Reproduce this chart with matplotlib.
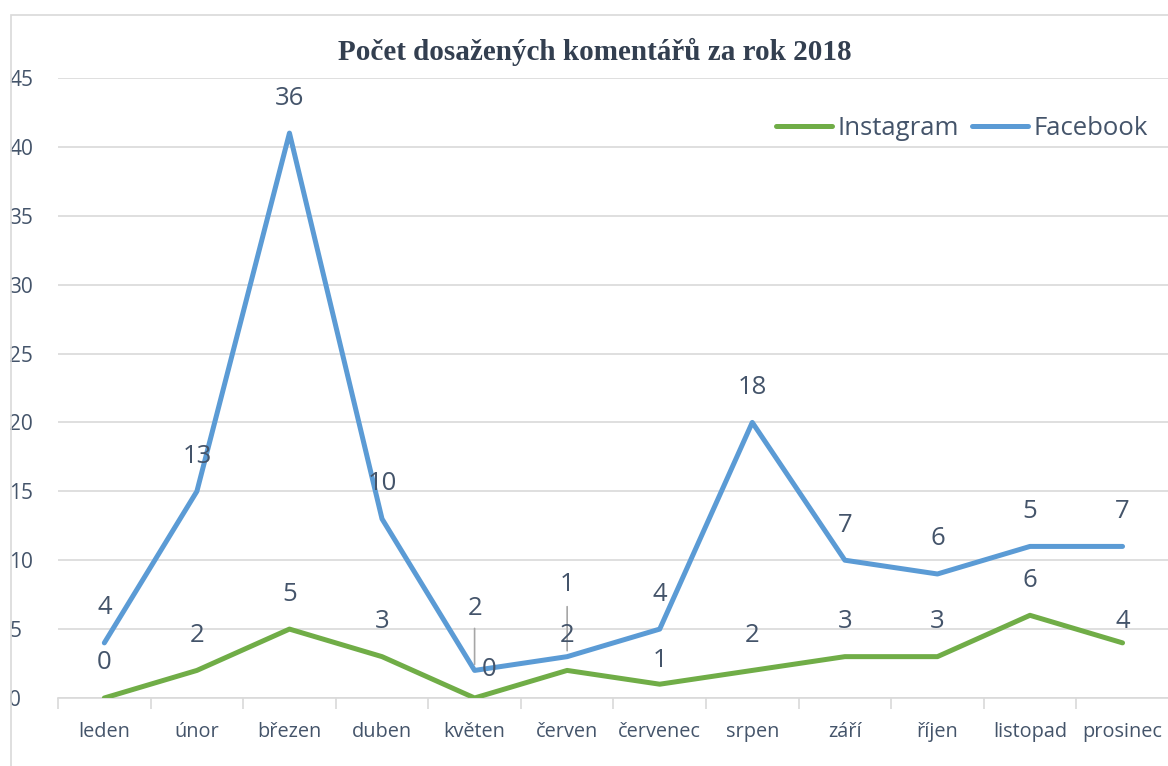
import matplotlib
matplotlib.use('Agg')
import matplotlib.pyplot as plt
from matplotlib.patches import Rectangle
import numpy as np

plt.rcParams['font.family'] = ['Open Sans', 'DejaVu Sans']

# Data
mesice = ['leden', 'únor', 'březen', 'duben', 'květen', 'červen', 'červenec',
          'srpen', 'září', 'říjen', 'listopad', 'prosinec']
instagram = [0, 2, 5, 3, 0, 2, 1, 2, 3, 3, 6, 4]
facebook = [4, 13, 36, 10, 2, 1, 4, 18, 7, 6, 5, 7]

green = '#70AD47'
blue = '#5B9BD5'
text_col = '#44546A'
tick_col = '#44546A'

x = np.arange(len(mesice))
inst = np.array(instagram)
fb_stack = inst + np.array(facebook)  # stacked line

fig = plt.figure(figsize=(11.68, 7.66), dpi=100)
ax = fig.add_axes([0.0497, 0.0888, 0.951, 0.8094])

# outer border of the chart area
fig.patches.append(Rectangle((0.009, -0.01), 1.0, 0.99, transform=fig.transFigure,
                             fill=False, edgecolor='#D9D9D9', lw=1.2))

ax.plot(x, inst, color=green, lw=3.6, label='Instagram', solid_joinstyle='round',
        solid_capstyle='round', zorder=3)
ax.plot(x, fb_stack, color=blue, lw=3.6, label='Facebook', solid_joinstyle='round',
        solid_capstyle='round', zorder=3)

ax.set_xlim(-0.5, len(mesice) - 0.5)
ax.set_ylim(0, 45)
ax.set_yticks(range(0, 46, 5))
ax.yaxis.grid(True, color='#D9D9D9', lw=1.2)
ax.set_axisbelow(True)
for s in ['top', 'right', 'left']:
    ax.spines[s].set_visible(False)
ax.spines['bottom'].set_color('#D9D9D9')
ax.spines['bottom'].set_linewidth(1.2)

ax.set_xticks(x)
ax.set_xticklabels(mesice, fontsize=14.3, color=tick_col)
ax.set_xticks(np.arange(-0.5, len(mesice), 1), minor=True)
ax.tick_params(axis='x', which='major', length=0, pad=17)
ax.tick_params(axis='x', which='minor', length=8, color='#D9D9D9', width=1.2)
ax.tick_params(axis='y', length=0, labelsize=15, labelcolor=tick_col, pad=35)
for lab in ax.get_yticklabels():
    lab.set_horizontalalignment('left')

# data labels (offsets in pixels: dx, dy)
default_off = (0, 35)
fb_off = {4: (0, 62), 5: (0, 72)}
inst_off = {4: (15, 28), 6: (0, 24), 11: (0, 21)}
fb_leader = {4: (6, 42), 5: (6, 50)}

px = 72 / 100.0
for i in x:
    dx, dy = fb_off.get(i, default_off)
    ax.annotate(str(facebook[i]), (i, fb_stack[i]), xytext=(dx * px, dy * px),
                textcoords='offset points', ha='center', va='center',
                fontsize=18.5, color=text_col, zorder=5)
    dx, dy = inst_off.get(i, default_off)
    ax.annotate(str(instagram[i]), (i, inst[i]), xytext=(dx * px, dy * px),
                textcoords='offset points', ha='center', va='center',
                fontsize=18.5, color=text_col, zorder=5)
    if i in fb_leader:
        y0, y1 = fb_leader[i]
        ax.annotate('', (i, fb_stack[i]), xytext=(0, y1 * px), textcoords='offset points',
                    arrowprops=dict(arrowstyle='-', color='#A6A6A6', lw=1.2,
                                    shrinkA=0, shrinkB=y0 * px))

fig.text(0.509, 0.932, 'Počet dosažených komentářů za rok 2018', ha='center', va='center',
         fontsize=21, fontweight='bold', family='Liberation Serif', color='#333F50')

leg = ax.legend(loc='upper right', bbox_to_anchor=(0.995, 0.964), frameon=False, fontsize=18.5,
                labelcolor=text_col, ncol=2, handlelength=2.2, handletextpad=0.2,
                columnspacing=0.5, borderaxespad=0.2)
for h in leg.get_lines():
    h.set_solid_capstyle('round')

fig.savefig('out.png', dpi=100)
